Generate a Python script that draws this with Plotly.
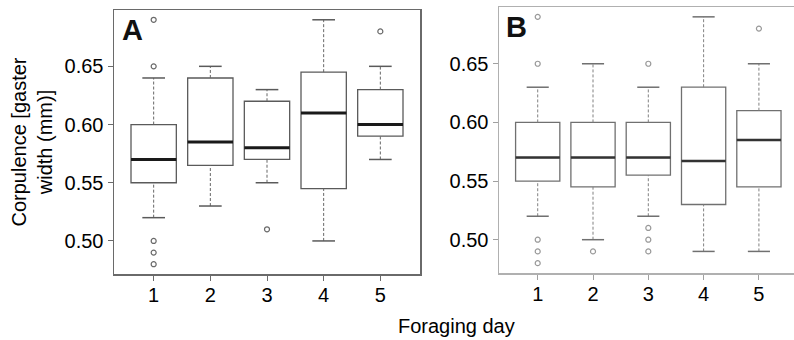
import plotly.graph_objects as go

days = [1, 2, 3, 4, 5]
tick_labels = ["1", "2", "3", "4", "5"]
y_ticks = [0.50, 0.55, 0.60, 0.65]
y_tick_labels = ["0.50", "0.55", "0.60", "0.65"]

# Panel A
a_q1 = [0.55, 0.565, 0.57, 0.545, 0.59]
a_med = [0.57, 0.585, 0.58, 0.61, 0.60]
a_q3 = [0.60, 0.64, 0.62, 0.645, 0.63]
a_lo = [0.52, 0.53, 0.55, 0.50, 0.57]
a_hi = [0.64, 0.65, 0.63, 0.69, 0.65]
a_out = [[0.69, 0.65, 0.50, 0.49, 0.48], [], [0.51], [], [0.68]]

# Panel B
b_q1 = [0.55, 0.545, 0.555, 0.53, 0.545]
b_med = [0.57, 0.57, 0.57, 0.567, 0.585]
b_q3 = [0.60, 0.60, 0.60, 0.63, 0.61]
b_lo = [0.52, 0.50, 0.52, 0.49, 0.49]
b_hi = [0.63, 0.65, 0.63, 0.69, 0.65]
b_out = [[0.69, 0.65, 0.50, 0.49, 0.48], [0.49], [0.65, 0.51, 0.50, 0.49], [], [0.68]]

BOXW = 0.8
CAPW = 0.4

fig = go.Figure()


def add_panel(xa, ya, q1, med, q3, lo, hi, outs, boxcol, medcol, medw, whiskcol, outcol):
    # whiskers (dashed)
    wx, wy = [], []
    for d, a, b, c, e in zip(days, lo, q1, q3, hi):
        wx += [d, d, None, d, d, None]
        wy += [a, b, None, c, e, None]
    fig.add_trace(go.Scatter(x=wx, y=wy, mode="lines", xaxis=xa, yaxis=ya,
                             line=dict(color=whiskcol, width=1, dash="3px,2px"),
                             hoverinfo="skip", showlegend=False))
    # caps
    cx, cy = [], []
    for d, a, e in zip(days, lo, hi):
        cx += [d - CAPW / 2, d + CAPW / 2, None, d - CAPW / 2, d + CAPW / 2, None]
        cy += [a, a, None, e, e, None]
    fig.add_trace(go.Scatter(x=cx, y=cy, mode="lines", xaxis=xa, yaxis=ya,
                             line=dict(color=boxcol, width=1.5),
                             hoverinfo="skip", showlegend=False))
    # boxes
    fig.add_trace(go.Box(x=days, q1=q1, median=med, q3=q3, lowerfence=q1, upperfence=q3,
                         width=BOXW, xaxis=xa, yaxis=ya, fillcolor="white",
                         line=dict(color=boxcol, width=1.3), whiskerwidth=0,
                         boxpoints=False, showlegend=False, hoverinfo="skip"))
    # medians
    mx, my = [], []
    for d, m in zip(days, med):
        mx += [d - BOXW / 2, d + BOXW / 2, None]
        my += [m, m, None]
    fig.add_trace(go.Scatter(x=mx, y=my, mode="lines", xaxis=xa, yaxis=ya,
                             line=dict(color=medcol, width=medw),
                             hoverinfo="skip", showlegend=False))
    # outliers
    ox, oy = [], []
    for d, o in zip(days, outs):
        ox += [d] * len(o)
        oy += o
    fig.add_trace(go.Scatter(x=ox, y=oy, mode="markers", xaxis=xa, yaxis=ya,
                             marker=dict(symbol="circle-open", size=5, color=outcol,
                                         line=dict(width=1.2, color=outcol)),
                             hoverinfo="skip", showlegend=False))


add_panel("x", "y", a_q1, a_med, a_q3, a_lo, a_hi, a_out,
          "#5a5a5a", "#1a1a1a", 3, "#666666", "#6a6a6a")
add_panel("x2", "y2", b_q1, b_med, b_q3, b_lo, b_hi, b_out,
          "#707070", "#333333", 2.5, "#808080", "#999999")

W, H = 794, 340
YR = [0.4716, 0.6984]
FAM = "Liberation Sans, Arial, sans-serif"
font = dict(family=FAM, size=20, color="black")

common_x = dict(tickmode="array", tickvals=days, ticktext=tick_labels, range=[0.3, 5.7],
                showgrid=False, zeroline=False, showline=True, ticks="outside",
                ticklen=5, tickfont=font, ticklabelstandoff=-3)
common_y = dict(tickmode="array", tickvals=y_ticks, ticktext=y_tick_labels, range=YR,
                showgrid=False, zeroline=False, showline=True, ticks="outside",
                ticklen=5, tickfont=font)

fig.update_layout(
    width=W, height=H,
    margin=dict(l=0, r=0, t=0, b=0),
    paper_bgcolor="white", plot_bgcolor="white",
    font=font,
    xaxis=dict(common_x, domain=[114 / W, 420 / W], anchor="y", mirror=True,
               linecolor="#6a6a6a", linewidth=1.5, tickcolor="#6a6a6a"),
    yaxis=dict(common_y, domain=[1 - 274 / H, 1 - 10 / H], anchor="x", mirror=True,
               linecolor="#6a6a6a", linewidth=1.5, tickcolor="#6a6a6a",
               title=dict(text="Corpulence [gaster<br>width (mm)]", font=font, standoff=6)),
    xaxis2=dict(common_x, domain=[499 / W, 1.0], anchor="y2", mirror=True,
                range=[0.3, 0.3 + 295 / 55.3],
                linecolor="#b0b0b0", linewidth=1.5, tickcolor="#a0a0a0"),
    yaxis2=dict(common_y, domain=[1 - 273 / H, 1 - 7 / H], anchor="x2", mirror=False,
                linecolor="#b0b0b0", linewidth=1.5, tickcolor="#a0a0a0"),
    annotations=[
        dict(text="<b>A</b>", x=120 / W, y=1 - 12 / H, xref="paper", yref="paper",
             xanchor="left", yanchor="top", showarrow=False,
             font=dict(family=FAM, size=29, color="#111")),
        dict(text="<b>B</b>", x=504 / W, y=1 - 9 / H, xref="paper", yref="paper",
             xanchor="left", yanchor="top", showarrow=False,
             font=dict(family=FAM, size=29, color="#111")),
        dict(text="Foraging day", x=456 / W, y=1 - 326 / H, xref="paper", yref="paper",
             xanchor="center", yanchor="middle", showarrow=False, font=font),
    ],
)

fig.write_html("out.html",
               config={"displayModeBar": False, "staticPlot": True},
               post_script="document.body.style.margin='0';document.body.style.padding='0';document.body.style.overflow='hidden';")
